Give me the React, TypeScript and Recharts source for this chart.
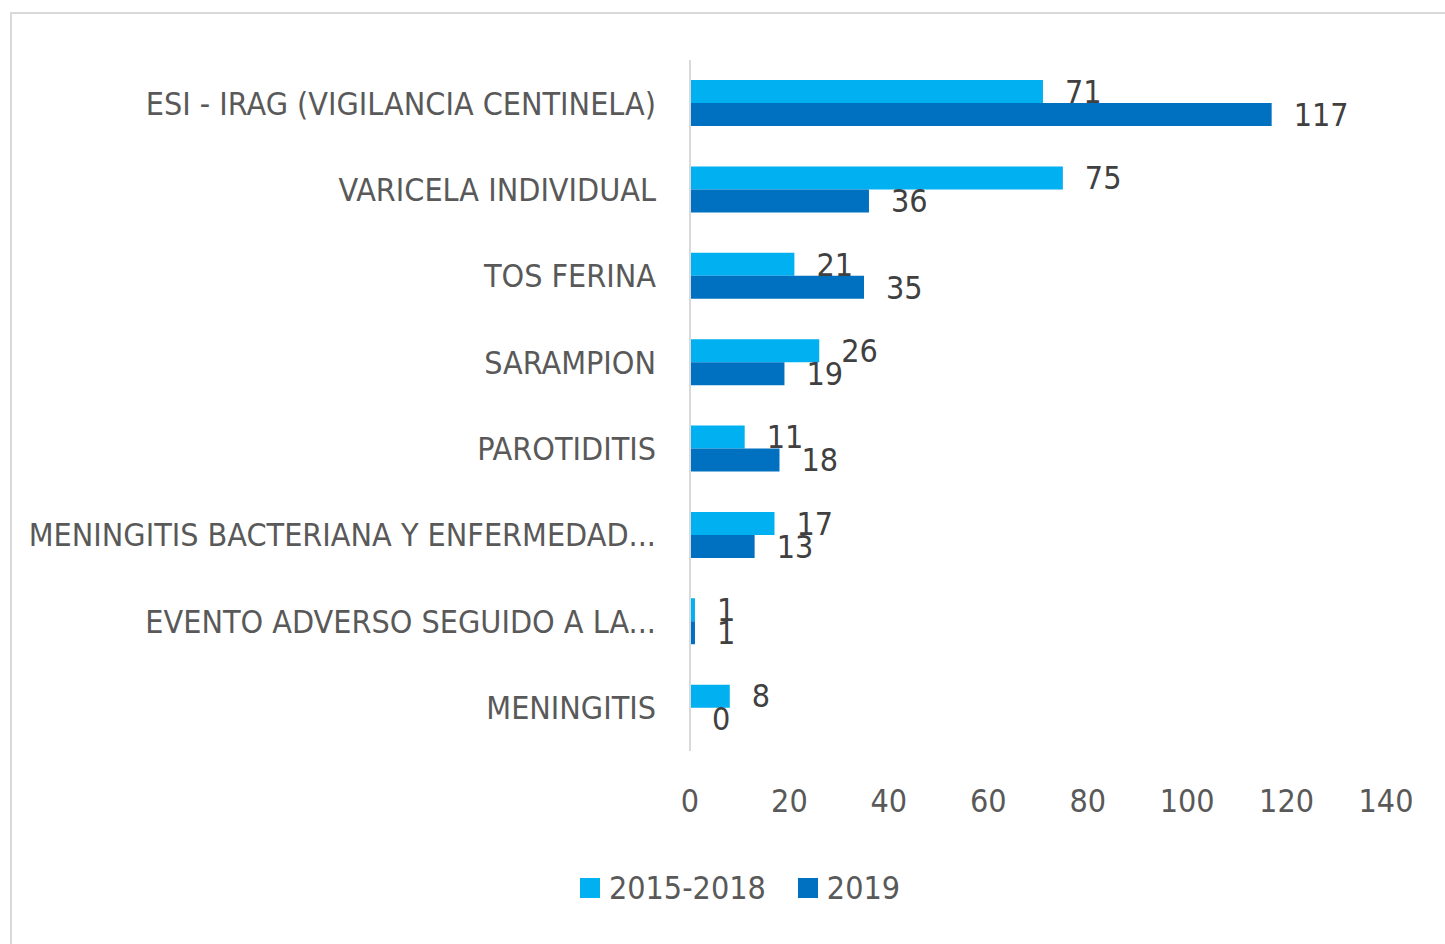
import { BarChart, Bar, XAxis, YAxis, Legend, LabelList } from 'recharts';

const categories = [
  'ESI - IRAG (VIGILANCIA CENTINELA)',
  'VARICELA INDIVIDUAL',
  'TOS FERINA',
  'SARAMPION',
  'PAROTIDITIS',
  'MENINGITIS BACTERIANA Y ENFERMEDAD...',
  'EVENTO ADVERSO SEGUIDO A LA...',
  'MENINGITIS',
];
const values20152018 = [71, 75, 21, 26, 11, 17, 1, 8];
const values2019 = [117, 36, 35, 19, 18, 13, 1, 0];
const xTicks = [0, 20, 40, 60, 80, 100, 120, 140];

const FONT = '"Liberation Sans Narrow", "DejaVu Sans Condensed", "Open Sans", sans-serif';

const data = categories.map((name, i) => ({
  name,
  a: values20152018[i],
  b: values2019[i],
}));

const legendItems = [
  { label: '2015-2018', color: '#00b0f0' },
  { label: '2019', color: '#0070c0' },
];

function LegendContent() {
  return (
    <div style={{ display: 'flex', justifyContent: 'center', paddingLeft: 23, fontFamily: FONT }}>
      {legendItems.map((it) => (
        <div key={it.label} style={{ display: 'flex', alignItems: 'center', margin: '0 16px' }}>
          <span style={{ width: 20, height: 20, background: it.color, display: 'inline-block', marginRight: 9 }} />
          <span style={{ color: '#595959', fontSize: 32 }}>{it.label}</span>
        </div>
      ))}
    </div>
  );
}

export default function App() {
  return (
    <div
      style={{
        position: 'absolute',
        left: 10,
        top: 12,
        width: 1440,
        height: 940,
        borderLeft: '2px solid #d9d9d9',
        borderTop: '2px solid #d9d9d9',
        background: '#fff',
        fontFamily: FONT,
      }}
    >
      <BarChart
        layout="vertical"
        width={1433}
        height={928}
        data={data}
        margin={{ top: 46, right: 59, left: 0, bottom: 73 }}
        barCategoryGap={20}
        barGap={0}
      >
        <XAxis
          type="number"
          domain={[0, 140]}
          ticks={xTicks}
          axisLine={false}
          tickLine={false}
          tick={{ fontSize: 32, fill: '#595959', fontFamily: FONT }}
          dy={30}
          height={80}
        />
        <YAxis
          type="category"
          dataKey="name"
          width={678}
          axisLine={{ stroke: '#d9d9d9', strokeWidth: 2 }}
          tickLine={false}
          tick={{ fontSize: 32, fill: '#595959', fontFamily: FONT }}
          tickMargin={28}
        />
        <Legend
          verticalAlign="bottom"
          content={<LegendContent />}
          wrapperStyle={{ top: 855, left: 0, width: 1433 }}
        />
        <Bar dataKey="a" name="2015-2018" fill="#00b0f0" minPointSize={0.01} isAnimationActive={false}>
          <LabelList dataKey="a" position="right" offset={22} fill="#404040" fontSize={32} fontFamily={FONT} />
        </Bar>
        <Bar dataKey="b" name="2019" fill="#0070c0" minPointSize={0.01} isAnimationActive={false}>
          <LabelList dataKey="b" position="right" offset={22} fill="#404040" fontSize={32} fontFamily={FONT} />
        </Bar>
      </BarChart>
    </div>
  );
}
